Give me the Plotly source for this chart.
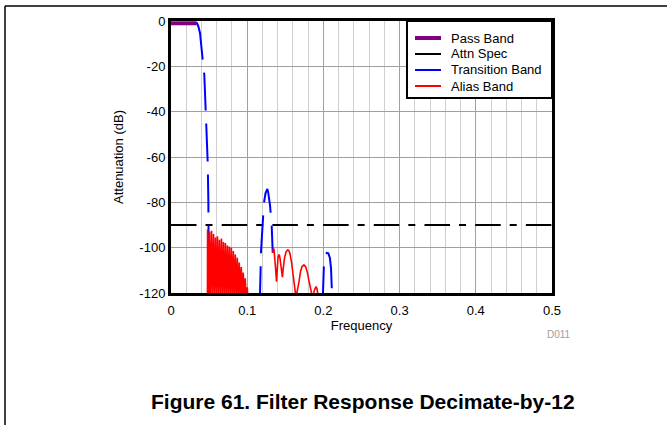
import plotly.graph_objects as go

# ---------------- data ----------------
pass_freq = [0.0, 0.0337]
pass_db = [-1.0, -1.0]

spec_freq = [0.0, 0.5]
spec_db = [-90, -90]

trans_freq = [0.0337, 0.0360, 0.0381, 0.0400, 0.0416, 0.0437, 0.0455, 0.0469, 0.0482, 0.0490, 0.0494, 0.0498,
              None,
              0.1165, 0.1168, 0.1181, 0.1190, 0.1205, 0.1220, 0.1240, 0.1255, 0.1264, 0.1275, 0.1290, 0.1300, 0.1322, 0.1335,
              None,
              0.1990, 0.1998, 0.2008, 0.2025, 0.2045, 0.2065, 0.2085, 0.2100, 0.2112, 0.2118]
trans_db = [-0.6, -2.5, -5.4, -10.5, -17.2, -23.8, -39.0, -46.0, -62.6, -79.0, -92.0, -122.0,
            None,
            -125.0, -118.6, -102.3, -96.6, -88.0, -80.3, -76.0, -74.3, -74.1, -75.5, -78.5, -81.5, -90.9, -102.3,
            None,
            -125.0, -112.0, -106.0, -103.0, -102.3, -102.5, -104.5, -109.0, -116.0, -125.0]

alias_freq = [0.0478, 0.0480, 0.0493, 0.0506, 0.0519, 0.0532, 0.0545, 0.0558, 0.0571, 0.0584, 0.0597,
              0.0610, 0.0623, 0.0636, 0.0649, 0.0662, 0.0675, 0.0688, 0.0701, 0.0714, 0.0727,
              0.0740, 0.0753, 0.0766, 0.0779, 0.0792, 0.0805, 0.0818, 0.0831, 0.0844, 0.0857,
              0.0870, 0.0883, 0.0896, 0.0909, 0.0922, 0.0935, 0.0948, 0.0961, 0.0974, 0.0987,
              0.1000, 0.1010,
              None,
              0.1335, 0.1340, 0.1345, 0.1352, 0.1360, 0.1370, 0.1385,
              0.1395, 0.1405, 0.1415, 0.1423, 0.1432, 0.1445, 0.1462,
              0.1470, 0.1490, 0.1510, 0.1530, 0.1545, 0.1560, 0.1580, 0.1600, 0.1620, 0.1640,
              0.1680, 0.1700, 0.1720, 0.1745, 0.1768, 0.1790, 0.1810, 0.1830, 0.1857,
              0.1880, 0.1892, 0.1903, 0.1915, 0.1933]
alias_db = [-122.0, -92.0, -122.0, -93.0, -122.0, -92.5, -122.0, -94.0, -122.0, -95.5, -122.0,
            -95.0, -122.0, -96.5, -122.0, -96.0, -122.0, -97.5, -122.0, -98.0, -122.0,
            -99.0, -122.0, -99.5, -122.0, -100.0, -122.0, -101.5, -122.0, -103.0, -122.0,
            -104.5, -122.0, -106.5, -122.0, -108.5, -122.0, -111.0, -122.0, -113.5, -122.0,
            -117.5, -122.0,
            None,
            -102.3, -100.6, -100.3, -101.0, -103.5, -108.0, -115.0,
            -108.0, -104.0, -103.2, -103.4, -105.0, -109.0, -113.0,
            -110.0, -104.5, -101.8, -101.0, -101.2, -102.5, -106.0, -111.5, -116.0, -122.0,
            -115.0, -110.5, -108.3, -107.6, -108.5, -111.0, -114.5, -118.0, -122.0,
            -119.0, -117.5, -117.2, -118.0, -122.0]

x_ticks = [0, 0.1, 0.2, 0.3, 0.4, 0.5]
x_tick_labels = ["0", "0.1", "0.2", "0.3", "0.4", "0.5"]
y_ticks = [0, -20, -40, -60, -80, -100, -120]
y_tick_labels = ["0", "-20", "-40", "-60", "-80", "-100", "-120"]

legend_names = ["Pass Band", "Attn Spec", "Transition Band", "Alias Band"]
legend_colors = ["#800080", "black", "#0000ff", "#ff0000"]
legend_widths = [4, 2, 2, 2]

FONT = "Liberation Sans, Arial, sans-serif"

fig = go.Figure()
fig.add_trace(go.Scatter(x=pass_freq, y=pass_db, mode="lines", name=legend_names[0],
                         line=dict(color=legend_colors[0], width=4)))
fig.add_trace(go.Scatter(x=spec_freq, y=spec_db, mode="lines", name=legend_names[1],
                         line=dict(color="black", width=2.2, dash="25.5px,9px,7px,9.2px")))
fig.add_trace(go.Scatter(x=trans_freq, y=trans_db, mode="lines", name=legend_names[2],
                         connectgaps=False,
                         line=dict(color=legend_colors[2], width=2, dash="38px,13px")))
fig.add_trace(go.Scatter(x=alias_freq, y=alias_db, mode="lines", name=legend_names[3],
                         connectgaps=False,
                         line=dict(color=legend_colors[3], width=1.6)))

fig.update_layout(
    width=667, height=425,
    margin=dict(l=171, r=115, t=21, b=132),
    paper_bgcolor="white", plot_bgcolor="white",
    font=dict(family=FONT, size=13, color="black"),
    showlegend=False,
    xaxis=dict(range=[0, 0.5], tickvals=x_ticks, ticktext=x_tick_labels,
               showline=True, linecolor="black", linewidth=3, mirror=True,
               showgrid=True, gridcolor="#a0a0a0", gridwidth=1,
               minor=dict(dtick=0.02, showgrid=True, gridcolor="#d0d0d0", gridwidth=1),
               zeroline=False, ticks="", ticklabelstandoff=3,
               title=dict(text="Frequency", standoff=5, font=dict(size=13))),
    yaxis=dict(range=[-120, 0], tickvals=y_ticks, ticktext=y_tick_labels,
               showline=True, linecolor="black", linewidth=3, mirror=True,
               showgrid=True, gridcolor="#a0a0a0", gridwidth=1,
               zeroline=False, ticks="",
               title=dict(text="Attenuation (dB)", standoff=13, font=dict(size=13))),
)

# hand-built legend box (white, black border)
fig.add_shape(type="rect", xref="paper", yref="paper", layer="above",
              x0=0.6194, x1=1.0, y0=0.7169, y1=1.0,
              fillcolor="white", line=dict(color="black", width=2))
row_y = [0.9375, 0.8787, 0.8199, 0.7610]
for name, col, w, yy in zip(legend_names, legend_colors, legend_widths, row_y):
    fig.add_shape(type="line", xref="paper", yref="paper", layer="above",
                  x0=0.6404, x1=0.7087, y0=yy, y1=yy,
                  line=dict(color=col, width=w))
    fig.add_annotation(text=name, xref="paper", yref="paper", x=0.7297, y=yy,
                       xanchor="left", yanchor="middle", showarrow=False,
                       font=dict(family=FONT, size=13, color="black"))

fig.add_annotation(text="<b>Figure 61. Filter Response Decimate-by-12</b>",
                   xref="paper", yref="paper", x=0.504, y=-0.40,
                   xanchor="center", yanchor="middle", showarrow=False,
                   font=dict(family=FONT, size=21, color="black"))
fig.add_annotation(text="D011", xref="paper", yref="paper", x=1.054, y=-0.154,
                   xanchor="right", yanchor="middle", showarrow=False,
                   font=dict(family=FONT, size=10, color="#a0a0a0"))

# outer frame (top and left edges)
fig.add_shape(type="line", xref="paper", yref="paper",
              x0=-0.4357, y0=1.0551, x1=1.31, y1=1.0551,
              line=dict(color="black", width=1.5))
fig.add_shape(type="line", xref="paper", yref="paper",
              x0=-0.4357, y0=1.0551, x1=-0.4357, y1=-0.49,
              line=dict(color="black", width=1.5))

fig.write_html("out.html", config={"displayModeBar": False},
               post_script="document.body.style.margin='0px';")
